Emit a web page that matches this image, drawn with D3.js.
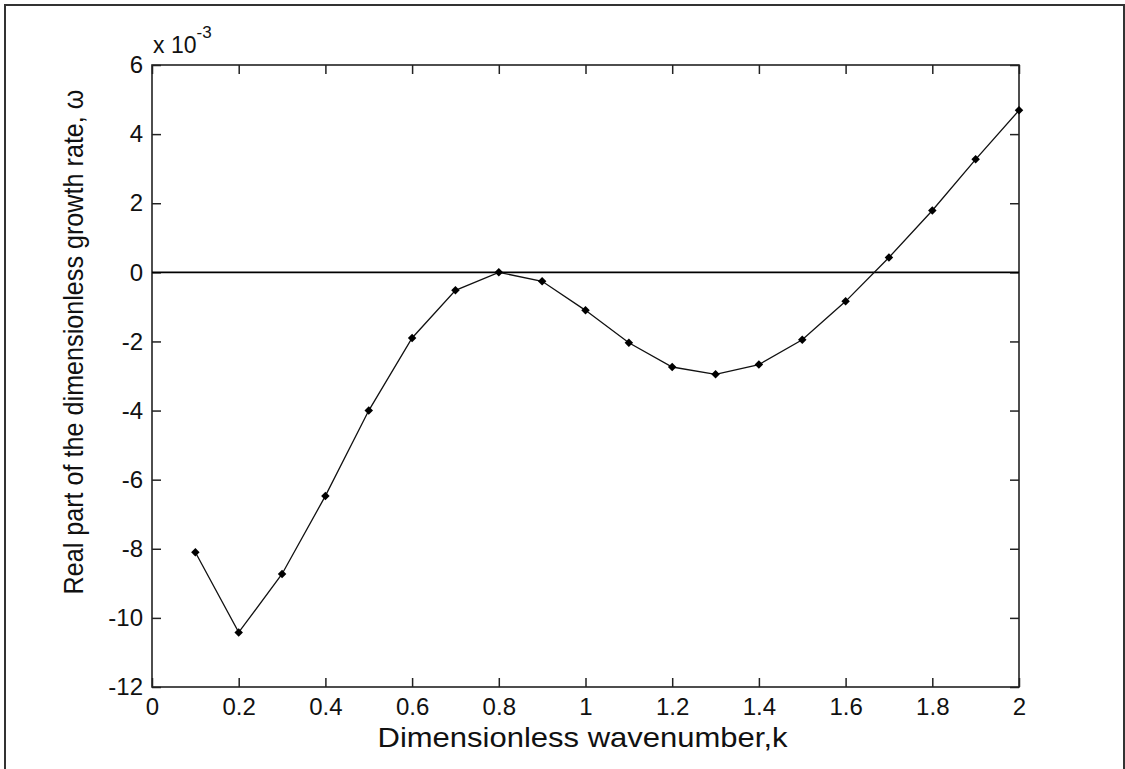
<!DOCTYPE html>
<html>
<head>
<meta charset="utf-8">
<script src="https://cdn.jsdelivr.net/npm/d3@7"></script>
<style>
  html, body { margin: 0; padding: 0; background: #fff; }
  svg { display: block; }
  text { font-family: "Liberation Sans", Arial, sans-serif; fill: #111; }
</style>
</head>
<body>
<svg id="chart" width="1125" height="769"></svg>
<script>
// Wavenumber k and real part of the growth rate (in units of 1e-3)
const wavenumbers = [0.1, 0.2, 0.3, 0.4, 0.5, 0.6, 0.7, 0.8, 0.9, 1.0,
                     1.1, 1.2, 1.3, 1.4, 1.5, 1.6, 1.7, 1.8, 1.9, 2.0];
const growthRate = [-8.10, -10.42, -8.73, -6.47, -4.00, -1.90, -0.52, 0.00, -0.26, -1.10,
                    -2.04, -2.74, -2.95, -2.67, -1.95, -0.84, 0.43, 1.79, 3.27, 4.69];
const xTicks = [0, 0.2, 0.4, 0.6, 0.8, 1, 1.2, 1.4, 1.6, 1.8, 2];
const yTicks = [-12, -10, -8, -6, -4, -2, 0, 2, 4, 6];
const xTitle = "Dimensionless wavenumber,k";
const yTitle = "Real part of the dimensionless growth rate, \u03c9";

const svg = d3.select("#chart");
const plot = { left: 152, top: 65, right: 1019, bottom: 687 };

// Figure frame
svg.append("path")
  .attr("d", "M5,769 V5 H1124 V769")
  .attr("fill", "none")
  .attr("stroke", "#333")
  .attr("stroke-width", 2);

const x = d3.scaleLinear().domain([0, 2]).range([plot.left, plot.right]);
const y = d3.scaleLinear().domain([-12, 6]).range([plot.bottom, plot.top]);

const tickLen = 9;
const fmt = d => String(d);

// Bottom axis with inward ticks
const gx = svg.append("g").attr("transform", `translate(0,${plot.bottom})`)
  .call(d3.axisBottom(x).tickValues(xTicks).tickFormat(fmt).tickSizeInner(-tickLen).tickSizeOuter(0).tickPadding(11));
// Top axis ticks only
const gxt = svg.append("g").attr("transform", `translate(0,${plot.top})`)
  .call(d3.axisTop(x).tickValues(xTicks).tickFormat("").tickSizeInner(-tickLen).tickSizeOuter(0));
// Left axis
const gy = svg.append("g").attr("transform", `translate(${plot.left},0)`)
  .call(d3.axisLeft(y).tickValues(yTicks).tickFormat(fmt).tickSizeInner(-tickLen).tickSizeOuter(0).tickPadding(9));
// Right axis ticks only
const gyr = svg.append("g").attr("transform", `translate(${plot.right},0)`)
  .call(d3.axisRight(y).tickValues(yTicks).tickFormat("").tickSizeInner(-tickLen).tickSizeOuter(0));

[gx, gxt, gy, gyr].forEach(g => {
  g.select(".domain").remove();
  g.selectAll(".tick line").attr("stroke", "#222").attr("stroke-width", 1.5);
  g.selectAll(".tick text").attr("font-size", 24).attr("fill", "#1a1a1a")
    .style("font-family", "'Liberation Sans', Arial, sans-serif");
});
gx.selectAll(".tick text").attr("dy", "0.71em");

// Axes box
svg.append("rect")
  .attr("x", plot.left).attr("y", plot.top)
  .attr("width", plot.right - plot.left).attr("height", plot.bottom - plot.top)
  .attr("fill", "none").attr("stroke", "#222").attr("stroke-width", 1.6);

// Zero reference line
svg.append("line")
  .attr("x1", x(0)).attr("x2", x(2))
  .attr("y1", y(0)).attr("y2", y(0))
  .attr("stroke", "#000").attr("stroke-width", 1.6);

// Growth-rate curve
const pts = wavenumbers.map((k, i) => [k, growthRate[i]]);
svg.append("path")
  .datum(pts)
  .attr("fill", "none")
  .attr("stroke", "#111")
  .attr("stroke-width", 1.3)
  .attr("d", d3.line().x(d => x(d[0])).y(d => y(d[1])));

svg.append("g").selectAll("path")
  .data(pts)
  .join("path")
  .attr("transform", d => `translate(${x(d[0])},${y(d[1])})`)
  .attr("d", d3.symbol().type(d3.symbolDiamond2).size(46))
  .attr("fill", "#000");

// Exponent marker above the y axis
const ex = svg.append("text").attr("x", 153).attr("y", 53).attr("font-size", 23).attr("fill", "#1a1a1a");
ex.append("tspan").text("x 10");
ex.append("tspan").attr("dy", -15).attr("font-size", 17).text("-3");

// Axis titles
svg.append("text")
  .attr("x", (plot.left + plot.right) / 2 - 3).attr("y", 747)
  .attr("text-anchor", "middle").attr("font-size", 28).attr("fill", "#1a1a1a")
  .attr("textLength", 410).attr("lengthAdjust", "spacingAndGlyphs")
  .text(xTitle);

svg.append("text")
  .attr("transform", `translate(83,342) rotate(-90)`)
  .attr("text-anchor", "middle").attr("font-size", 28).attr("fill", "#1a1a1a")
  .attr("textLength", 505).attr("lengthAdjust", "spacingAndGlyphs")
  .text(yTitle);
</script>
</body>
</html>
